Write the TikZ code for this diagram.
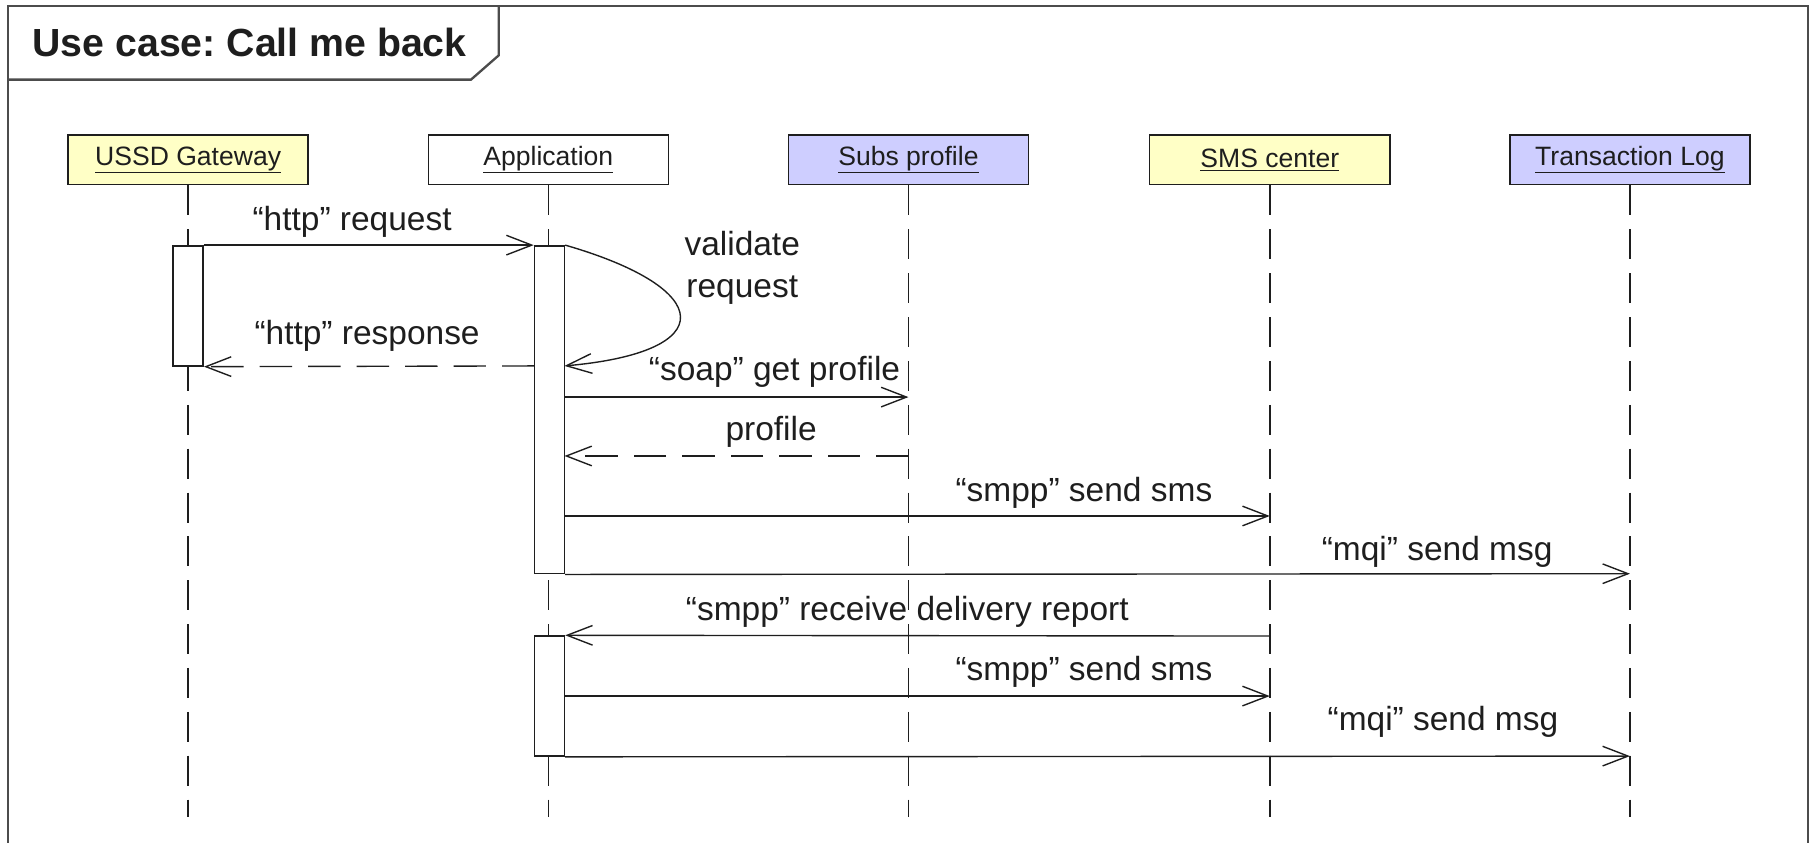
\documentclass[tikz,border=0pt]{standalone}
\usepackage{fontspec}
\setmainfont{Liberation Sans}
\usetikzlibrary{arrows.meta}
\definecolor{headyellow}{RGB}{255,255,198}
\definecolor{headblue}{RGB}{206,206,255}
\definecolor{ink}{RGB}{30,30,30}
\frenchspacing
\begin{document}
\begin{tikzpicture}[x=1pt,y=-1pt,
  head/.style={draw=ink, line width=1.3pt, minimum width=208pt, minimum height=43pt, inner sep=0pt, font=\fontsize{23}{27}\selectfont, text=ink},
  life/.style={line width=1.3pt, draw=ink, dash pattern=on 26pt off 12pt},
  act/.style={draw=ink, fill=white, line width=1.3pt, minimum width=26pt, inner sep=0pt},
  msg/.style={draw=ink, line width=1.2pt, -{Straight Barb[length=22pt,width=17pt,line width=1.2pt]}},
  ret/.style={msg, dash pattern=on 28pt off 14pt},
  lbl/.style={font=\fontsize{29}{37}\selectfont, inner sep=0pt, text=ink}
]
\useasboundingbox (0,0) rectangle (1568,730);
% frame (open at the bottom, as cut off)
\draw[line width=2pt, draw=black!70] (7,740) -- (7,5) -- (1566,5) -- (1566,740);
\draw[line width=2pt, draw=black!70] (7,69) -- (408,69) -- (432,48) -- (432,5);
\node[anchor=west, font=\bfseries\fontsize{34}{40}\selectfont, text=ink, inner sep=0pt] (title) at (28,37) {Use case: Call me back};

% lifeline heads
\node[head, fill=headyellow] (ussd) at (163,138.5) {\underline{USSD Gateway}};
\node[head, fill=white] (app) at (475,138.5) {\underline{Application}};
\node[head, fill=headblue] (subs) at (787,138.5) {\underline{Subs profile}};
\node[head, fill=headyellow] (sms) at (1100,138.5) {\underline{SMS center}};
\node[head, fill=headblue] (tlog) at (1412,138.5) {\underline{Transaction Log}};

% lifeline ends
\coordinate (ussdE) at (163,708);
\coordinate (appE) at (475,708);
\coordinate (subsE) at (787,708);
\coordinate (smsE) at (1100,708);
\coordinate (tlogE) at (1412,708);
\draw[life] (ussd.south) -- (ussdE);
\draw[life] (app.south) -- (appE);
\draw[life] (subs.south) -- (subsE);
\draw[life] (sms.south) -- (smsE);
\draw[life] (tlog.south) -- (tlogE);

% activations
\node[act, minimum height=104pt] (ussdact) at (163,265) {};
\node[act, minimum height=284pt] (appact1) at (476,355) {};
\node[act, minimum height=104pt] (appact2) at (476,603) {};

% points on lifelines
\coordinate (selfEnd) at (489,317);
\coordinate (respStart) at (463,317);
\coordinate (soapA) at (489,344);
\coordinate (soapB) at (787,344);
\coordinate (profA) at (787,395);
\coordinate (profB) at (489,395);
\coordinate (smsA1) at (489,447);
\coordinate (smsB1) at (1100,447);
\coordinate (tlogB1) at (1412,497);
\coordinate (drA) at (1100,551);
\coordinate (smsA2) at (489,603);
\coordinate (smsB2) at (1100,603);
\coordinate (tlogB2) at (1412,655);

% messages
\draw[msg] (ussdact.north east) -- (appact1.north west);
\node[lbl] (l1) at (305,192) {“http” request};

\draw[msg] (appact1.north east) .. controls (620,250) and (625,305) .. (selfEnd);
\node[lbl, align=center] (l2) at (643,232) {validate\\request};

\draw[ret] (respStart) -- (ussdact.south east);
\node[lbl] (l3) at (318,291) {“http” response};

\draw[msg] (soapA) -- (soapB);
\node[lbl] (l4) at (671,322) {“soap” get profile};

\draw[ret] (profA) -- (profB);
\node[lbl] (l5) at (668,374) {profile};

\draw[msg] (smsA1) -- (smsB1);
\node[lbl] (l6) at (939,427) {“smpp” send sms};

\draw[msg] (appact1.south east) -- (tlogB1);
\node[lbl] (l7) at (1245,478) {“mqi” send msg};

\draw[msg] (drA) -- (appact2.north east);
\node[lbl] (l8) at (786,530) {“smpp” receive delivery report};

\draw[msg] (smsA2) -- (smsB2);
\node[lbl] (l9) at (939,582) {“smpp” send sms};

\draw[msg] (appact2.south east) -- (tlogB2);
\node[lbl] (l10) at (1250,625) {“mqi” send msg};
\end{tikzpicture}
\end{document}
